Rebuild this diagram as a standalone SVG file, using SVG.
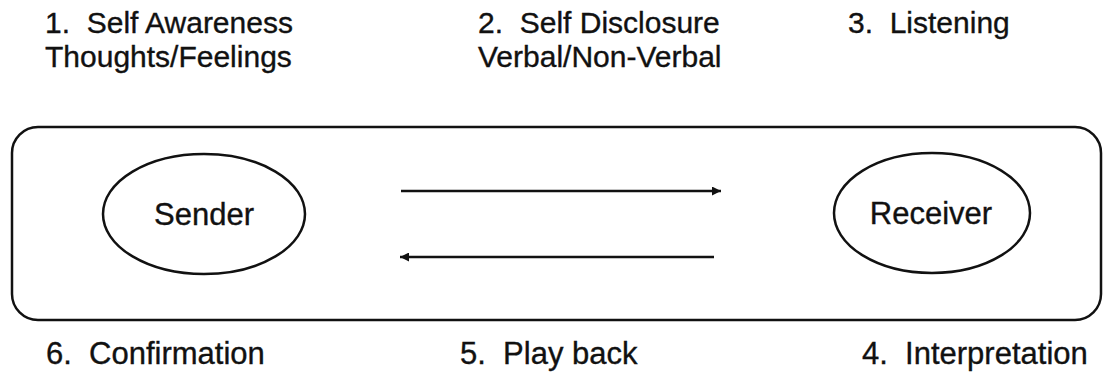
<svg xmlns="http://www.w3.org/2000/svg" width="1105" height="375" viewBox="0 0 1105 375">
  <defs>
    <marker id="head" viewBox="0 0 10 10" refX="10" refY="5" markerWidth="11" markerHeight="9" markerUnits="userSpaceOnUse" orient="auto">
      <path d="M0,0 L10,5 L0,10 Z" fill="#111"/>
    </marker>
    <style>
      text { font-family: "Liberation Sans", Arial, sans-serif; fill: #111; stroke: #111; stroke-width: 0.35; white-space: pre; }
      .lbl { font-size: 30px; }
      .low { font-size: 31px; }
      .node { font-size: 31px; text-anchor: middle; }
      .shape { fill: none; stroke: #111; stroke-width: 2.5; }
      .wire { stroke: #111; stroke-width: 2.5; fill: none; }
    </style>
  </defs>
  <rect width="1105" height="375" fill="#fff"/>

  <!-- step labels above the frame -->
  <g id="labels-top">
    <text class="lbl" x="45" y="33">1.  Self Awareness</text>
    <text class="lbl" x="45" y="67">Thoughts/Feelings</text>
    <text class="lbl" x="478" y="33">2.  Self Disclosure</text>
    <text class="lbl" x="478" y="67">Verbal/Non-Verbal</text>
    <text class="lbl" x="848" y="33">3.  Listening</text>
  </g>

  <!-- enclosing frame -->
  <g id="frame">
    <rect class="shape" x="12" y="127" width="1089" height="193" rx="26" ry="26"/>
  </g>

  <g id="sender">
    <ellipse class="shape" cx="204" cy="214" rx="101" ry="60"/>
    <text class="node" x="204" y="225">Sender</text>
  </g>

  <g id="receiver">
    <ellipse class="shape" cx="932" cy="213" rx="98" ry="60"/>
    <text class="node" x="931" y="224">Receiver</text>
  </g>

  <g id="connectors">
    <line class="wire" x1="401" y1="191" x2="721" y2="191" marker-end="url(#head)"/>
    <line class="wire" x1="714" y1="257" x2="400" y2="257" marker-end="url(#head)"/>
  </g>

  <!-- step labels below the frame -->
  <g id="labels-bottom">
    <text class="low" x="46" y="364">6.  Confirmation</text>
    <text class="low" x="460" y="364">5.  Play back</text>
    <text class="low" x="862" y="364">4.  Interpretation</text>
  </g>
</svg>
